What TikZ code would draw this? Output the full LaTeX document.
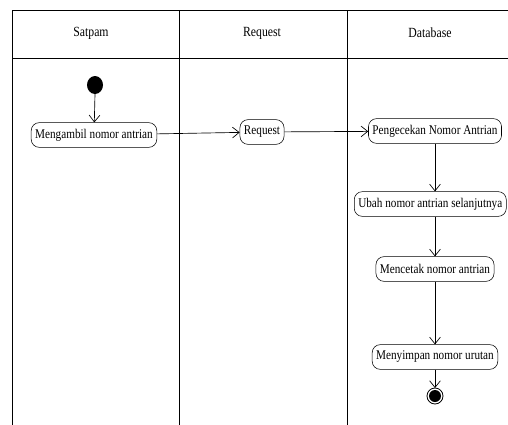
\documentclass[tikz,border=0pt]{standalone}
\usepackage{fontspec}
\setmainfont[FakeStretch=0.84]{Liberation Serif}
\usetikzlibrary{arrows.meta,positioning}

\tikzset{
  lane/.style={line width=0.6pt},
  act/.style={draw, rounded corners=6pt, minimum height=18.5pt, inner xsep=3pt, inner ysep=1pt, font=\fontsize{10}{12}\selectfont},
  flow/.style={-{Straight Barb[length=5pt,width=8pt]}, line width=0.5pt},
  hdr/.style={font=\fontsize{10.5}{12}\selectfont}
}

\begin{document}
\begin{tikzpicture}[x=0.75pt,y=-0.75pt]

\clip (0,0) rectangle (508,425);

% swimlanes
\draw[lane] (12,10) -- (520,10);
\draw[lane] (12,58) -- (520,58);
\draw[lane] (12,10) -- (12,425);
\draw[lane] (179,10) -- (179,425);
\draw[lane] (347,10) -- (347,425);

\node[hdr] (satpam) at (91,33) {Satpam};
\node[hdr] (request) at (262,33) {Request};
\node[hdr] (database) at (430,33) {Database};

% start / end
\fill (95,85) ellipse (8 and 9);
\coordinate (start) at (95,94);

\node[act] (ambil) at (94,135) {Mengambil nomor antrian};
\node[act] (req) at (262,132) {Request};
\node[act] (cek) at (435,131) {Pengecekan Nomor Antrian};
\node[act, anchor=west] (ubah) at (354,204) {Ubah nomor antrian selanjutnya};
\node[act] (cetak) at (435,269) {Mencetak nomor antrian};
\node[act] (simpan) at (435,357) {Menyimpan nomor urutan};

\draw[line width=0.6pt] (435,396) circle (8);
\fill (435,396) circle (6);
\coordinate (stop) at (435,388);

\draw[flow] (start) -- (ambil);
\draw[flow] (ambil) -- (req);
\draw[flow] (req) -- (cek);
\draw[flow] (cek) -- (cek |- ubah.north);
\draw[flow] (cek |- ubah.south) -- (cetak);
\draw[flow] (cetak) -- (simpan);
\draw[flow] (simpan) -- (stop);

\end{tikzpicture}
\end{document}
